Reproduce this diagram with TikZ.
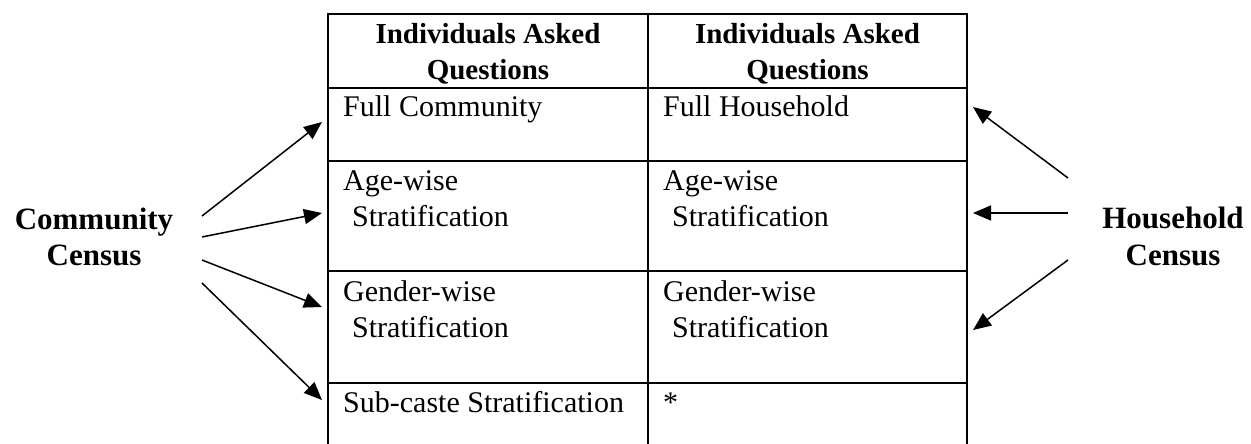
\documentclass[tikz,border=0pt]{standalone}
\usepackage{fontspec}
\setmainfont{Liberation Serif}
\usetikzlibrary{arrows.meta}
\begin{document}
\begin{tikzpicture}[x=1pt,y=-1pt,
  gridline/.style={line width=2pt},
  conn/.style={line width=1.5pt,-{Triangle[length=18pt,width=15pt]}},
  cell/.style={anchor=base west,inner sep=0pt,font=\fontsize{30}{36}\selectfont},
  head/.style={anchor=base,inner sep=0pt,font=\fontsize{29}{36}\selectfont\bfseries},
  side/.style={anchor=base,inner sep=0pt,font=\fontsize{31}{36}\selectfont\bfseries}]
\useasboundingbox (0,0) rectangle (1251,444);
% table grid
\draw[gridline] (328,446) -- (328,14.5) -- (967,14.5) -- (967,446);
\draw[gridline] (648,14.5) -- (648,446);
\draw[gridline] (328,88) -- (967,88);
\draw[gridline] (328,161) -- (967,161);
\draw[gridline] (328,271) -- (967,271);
\draw[gridline] (328,383) -- (967,383);
% headers
\node[head] (h1a) at (488,44) {Individuals Asked};
\node[head] (h1b) at (488,80) {Questions};
\node[head] (h2a) at (807.5,44) {Individuals Asked};
\node[head] (h2b) at (807.5,80) {Questions};
% left column
\node[cell] (c11) at (343,116) {Full Community};
\node[cell] (c21a) at (343,190) {Age-wise};
\node[cell] (c21b) at (352,226) {Stratification};
\node[cell] (c31a) at (343,301) {Gender-wise};
\node[cell] (c31b) at (352,337) {Stratification};
\node[cell] (c41) at (343,412) {Sub-caste Stratification};
% right column
\node[cell] (c12) at (663,116) {Full Household};
\node[cell] (c22a) at (663,190) {Age-wise};
\node[cell] (c22b) at (672,226) {Stratification};
\node[cell] (c32a) at (663,301) {Gender-wise};
\node[cell] (c32b) at (672,337) {Stratification};
\node[cell] (c42) at (663,412) {*};
% side labels
\node[side] (comA) at (94,229) {Community};
\node[side] (comB) at (94,265) {Census};
\node[side] (houA) at (1173,228) {Household};
\node[side] (houB) at (1173,265) {Census};
% arrow end points
\coordinate (l1s) at (202,216); \coordinate (l1e) at (322,122);
\coordinate (l2s) at (202,237); \coordinate (l2e) at (322,213);
\coordinate (l3s) at (202,260); \coordinate (l3e) at (322,307);
\coordinate (l4s) at (202,283); \coordinate (l4e) at (322,400);
\coordinate (r1s) at (1068,178); \coordinate (r1e) at (973,107);
\coordinate (r2s) at (1068,213); \coordinate (r2e) at (973,213);
\coordinate (r3s) at (1068,260); \coordinate (r3e) at (973,330);
\draw[conn] (l1s) -- (l1e);
\draw[conn] (l2s) -- (l2e);
\draw[conn] (l3s) -- (l3e);
\draw[conn] (l4s) -- (l4e);
\draw[conn] (r1s) -- (r1e);
\draw[conn] (r2s) -- (r2e);
\draw[conn] (r3s) -- (r3e);
\end{tikzpicture}
\end{document}
